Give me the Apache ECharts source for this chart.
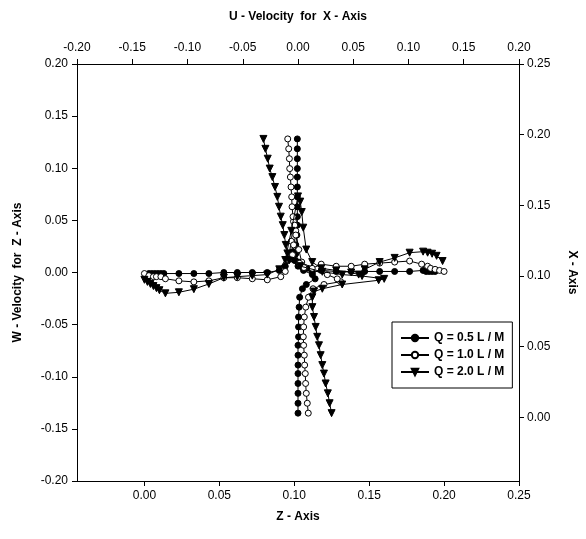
<!DOCTYPE html>
<html>
<head>
<meta charset="utf-8">
<script src="https://cdn.jsdelivr.net/npm/echarts@6/dist/echarts.min.js"></script>
<style>
  html, body { margin: 0; padding: 0; background: #fff; }
  #chart { width: 586px; height: 539px; }
</style>
</head>
<body>
<div id="chart"></div>
<script>
// legend names
var seriesNames = ['Q = 0.5 L / M', 'Q = 1.0 L / M', 'Q = 2.0 L / M'];

// tick values for the Z / X axes (range starts below zero)
var zTicks = [0, 0.05, 0.10, 0.15, 0.20, 0.25];
var xTicks = [0, 0.05, 0.10, 0.15, 0.20, 0.25];

// W velocity against Z (bottom / left axes)
var zQ05 = [0.003, 0.005, 0.007, 0.009, 0.011, 0.013, 0.023, 0.033, 0.043, 0.053, 0.062, 0.072, 0.082, 0.090, 0.094, 0.097, 0.099, 0.101, 0.103, 0.106, 0.109, 0.112, 0.118, 0.128, 0.138, 0.147, 0.157, 0.167, 0.177, 0.186, 0.188, 0.190, 0.192, 0.194];
var wQ05 = [-0.001, -0.001, -0.001, -0.001, -0.001, -0.001, -0.001, -0.001, -0.001, 0.000, 0.000, 0.000, 0.000, 0.002, 0.006, 0.013, 0.020, 0.018, 0.010, 0.005, 0.004, 0.000, 0.002, 0.001, 0.001, 0.001, 0.001, 0.001, 0.001, 0.002, 0.001, 0.001, 0.001, 0.001];

var zQ10 = [0.000, 0.003, 0.006, 0.008, 0.011, 0.014, 0.023, 0.033, 0.043, 0.053, 0.062, 0.072, 0.082, 0.091, 0.094, 0.096, 0.098, 0.0995, 0.101, 0.103, 0.105, 0.107, 0.112, 0.118, 0.128, 0.138, 0.147, 0.157, 0.167, 0.177, 0.185, 0.189, 0.191, 0.194, 0.197, 0.200];
var wQ10 = [-0.001, -0.003, -0.004, -0.004, -0.004, -0.006, -0.008, -0.009, -0.008, -0.005, -0.005, -0.006, -0.007, -0.004, 0.001, 0.012, 0.030, 0.049, 0.040, 0.022, 0.010, 0.005, 0.004, 0.008, 0.006, 0.006, 0.008, 0.009, 0.010, 0.011, 0.008, 0.006, 0.004, 0.003, 0.002, 0.001];

var zQ20 = [0.000, 0.002, 0.004, 0.006, 0.008, 0.010, 0.014, 0.023, 0.033, 0.043, 0.053, 0.062, 0.072, 0.082, 0.090, 0.094, 0.098, 0.1025, 0.104, 0.105, 0.106, 0.108, 0.112, 0.118, 0.128, 0.138, 0.143, 0.147, 0.157, 0.167, 0.177, 0.186, 0.189, 0.192, 0.195, 0.199];
var wQ20 = [-0.007, -0.009, -0.011, -0.013, -0.015, -0.017, -0.020, -0.019, -0.016, -0.011, -0.005, -0.004, -0.003, -0.002, 0.003, 0.012, 0.040, 0.073, 0.068, 0.058, 0.043, 0.022, 0.010, 0.004, 0.002, 0.000, -0.002, 0.003, 0.010, 0.014, 0.019, 0.020, 0.019, 0.018, 0.016, 0.011];

// U velocity against X (top / right axes)
var xQ05 = [0.003, 0.010, 0.017, 0.024, 0.031, 0.037, 0.044, 0.051, 0.057, 0.064, 0.071, 0.078, 0.085, 0.091, 0.094, 0.098, 0.101, 0.104, 0.107, 0.111, 0.115, 0.122, 0.129, 0.136, 0.142, 0.149, 0.156, 0.163, 0.170, 0.176, 0.183, 0.190, 0.197];
var uQ05 = [0.000, 0.000, 0.000, 0.000, 0.000, 0.000, 0.000, 0.000, 0.0005, 0.0005, 0.0005, 0.001, 0.0015, 0.004, 0.0075, 0.0155, 0.013, 0.005, 0.000, -0.003, -0.003, -0.002, -0.001, -0.0006, -0.0006, -0.0006, -0.0006, -0.0006, -0.0006, -0.0006, -0.0006, -0.0006, -0.0006];

var xQ10 = [0.003, 0.010, 0.017, 0.024, 0.031, 0.037, 0.044, 0.051, 0.057, 0.064, 0.071, 0.078, 0.085, 0.091, 0.094, 0.096, 0.098, 0.101, 0.106, 0.109, 0.115, 0.122, 0.129, 0.136, 0.142, 0.149, 0.156, 0.163, 0.170, 0.176, 0.183, 0.190, 0.197];
var uQ10 = [0.0093, 0.0084, 0.0075, 0.0069, 0.0066, 0.0060, 0.0057, 0.0051, 0.0048, 0.0051, 0.0057, 0.0070, 0.0095, 0.0136, 0.0235, 0.0386, 0.0355, 0.0265, 0.0054, 0.0015, -0.005, -0.004, -0.002, -0.003, -0.0045, -0.0054, -0.0057, -0.0063, -0.0069, -0.0075, -0.0078, -0.0084, -0.0093];

var xQ20 = [0.003, 0.010, 0.017, 0.024, 0.031, 0.037, 0.044, 0.051, 0.057, 0.064, 0.071, 0.078, 0.085, 0.089, 0.091, 0.094, 0.097, 0.098, 0.100, 0.101, 0.103, 0.107, 0.111, 0.116, 0.122, 0.129, 0.136, 0.142, 0.149, 0.156, 0.163, 0.170, 0.176, 0.183, 0.190, 0.197];
var uQ20 = [0.0304, 0.0286, 0.027, 0.025, 0.0235, 0.022, 0.0205, 0.019, 0.0174, 0.016, 0.0145, 0.013, 0.013, 0.0145, 0.022, 0.040, 0.073, 0.078, 0.058, 0.040, 0.022, 0.002, -0.0081, -0.0096, -0.0111, -0.0124, -0.0138, -0.0156, -0.0172, -0.0187, -0.0208, -0.0232, -0.0256, -0.0274, -0.0295, -0.0313];

function pairs(a, b) {
    var out = [];
    for (var i = 0; i < a.length; i++) out.push([a[i], b[i]]);
    return out;
}

function fmt(v) {
    if (Math.abs(v) < 1e-9) return '0.00';
    return v.toFixed(2);
}

var black = '#000';
var labelFont = { color: black, fontSize: 12, fontFamily: 'Liberation Sans, Arial, sans-serif' };
var nameFont = { color: black, fontSize: 12, fontWeight: 'bold', fontFamily: 'Liberation Sans, Arial, sans-serif' };

function axisBase(extra) {
    var a = {
        type: 'value',
        axisLine: { show: true, onZero: false, lineStyle: { color: black, width: 1 } },
        axisTick: { show: true, inside: false, length: 5, lineStyle: { color: black, width: 1 } },
        axisLabel: Object.assign({ formatter: fmt, showMinLabel: true, showMaxLabel: true }, labelFont),
        splitLine: { show: false },
        nameLocation: 'middle',
        nameTextStyle: nameFont
    };
    for (var k in extra) {
        if (typeof extra[k] === 'object' && !Array.isArray(extra[k]) && a[k]) {
            a[k] = Object.assign({}, a[k], extra[k]);
        } else {
            a[k] = extra[k];
        }
    }
    return a;
}

var markerStyles = [
    { symbol: 'circle', symbolSize: 6, symbolRotate: 0, itemStyle: { color: black, borderColor: black, borderWidth: 1 } },
    { symbol: 'circle', symbolSize: 6, symbolRotate: 0, itemStyle: { color: '#fff', borderColor: black, borderWidth: 1 } },
    { symbol: 'triangle', symbolSize: 7, symbolRotate: 180, itemStyle: { color: black, borderColor: black, borderWidth: 1 } }
];

function makeSeries(idx, data, xi, yi) {
    var m = markerStyles[idx];
    return {
        name: seriesNames[idx],
        type: 'line',
        xAxisIndex: xi,
        yAxisIndex: yi,
        data: data,
        symbol: m.symbol,
        symbolSize: m.symbolSize,
        symbolRotate: m.symbolRotate,
        showAllSymbol: true,
        itemStyle: m.itemStyle,
        lineStyle: { color: black, width: 1 },
        emphasis: { disabled: true },
        z: 2 + idx
    };
}

var chart = echarts.init(document.getElementById('chart'), null, { renderer: 'canvas' });

chart.setOption({
    animation: false,
    backgroundColor: '#fff',
    grid: { left: 77, right: 66, top: 64, bottom: 58, containLabel: false },
    xAxis: [
        axisBase({
            position: 'bottom', min: -0.045, max: 0.25,
            axisTick: { customValues: zTicks },
            axisLabel: { customValues: zTicks, margin: 9 },
            name: 'Z - Axis', nameGap: 30
        }),
        axisBase({
            position: 'top', min: -0.2, max: 0.2, interval: 0.05,
            axisLabel: { margin: 10 },
            name: 'U - Velocity  for  X - Axis', nameGap: 41
        })
    ],
    yAxis: [
        axisBase({
            position: 'left', min: -0.2, max: 0.2, interval: 0.05,
            axisLabel: { margin: 9 },
            name: 'W - Velocity  for  Z - Axis', nameGap: 53
        }),
        axisBase({
            position: 'right', min: -0.045, max: 0.25,
            axisTick: { customValues: xTicks },
            axisLabel: { customValues: xTicks, margin: 8 },
            name: 'X - Axis', nameGap: 47, nameRotate: -90
        })
    ],
    legend: {
        data: seriesNames,
        orient: 'vertical',
        left: 392,
        top: 322,
        itemWidth: 28,
        itemHeight: 8,
        itemGap: 5,
        itemTextGap: 7,
        padding: [10, 8, 10, 8],
        borderColor: black,
        borderWidth: 1,
        backgroundColor: '#fff',
        selectedMode: false,
        textStyle: nameFont
    },
    series: [
        makeSeries(0, pairs(zQ05, wQ05), 0, 0),
        makeSeries(0, pairs(uQ05, xQ05), 1, 1),
        makeSeries(1, pairs(zQ10, wQ10), 0, 0),
        makeSeries(1, pairs(uQ10, xQ10), 1, 1),
        makeSeries(2, pairs(zQ20, wQ20), 0, 0),
        makeSeries(2, pairs(uQ20, xQ20), 1, 1)
    ]
});
</script>
</body>
</html>
